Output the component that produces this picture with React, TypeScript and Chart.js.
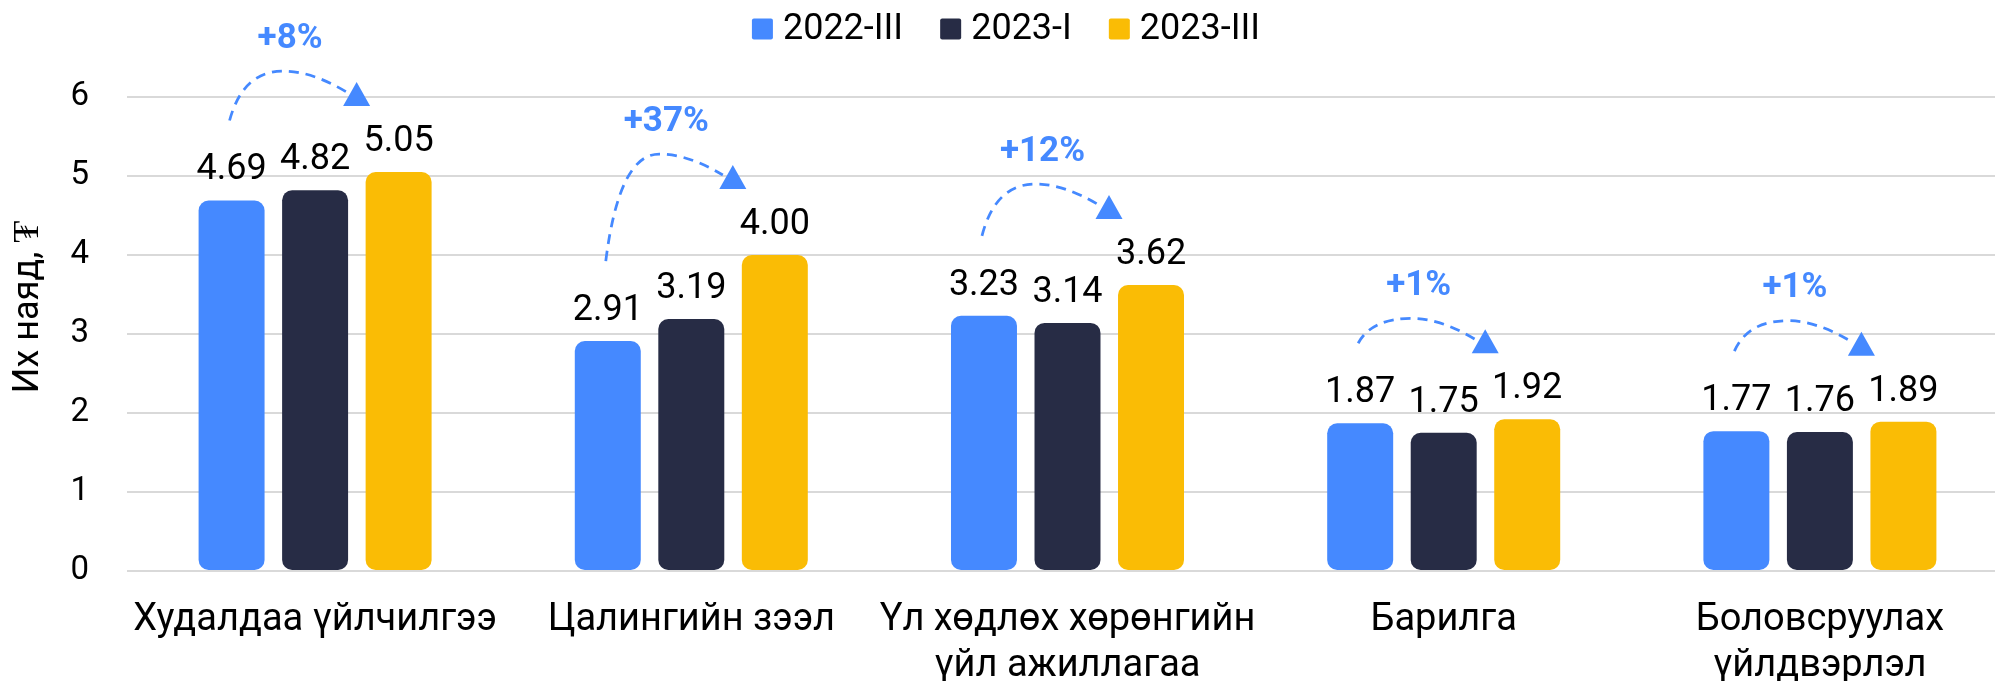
import React, { useEffect, useRef } from "react";
import { Chart, registerables } from "chart.js";

Chart.register(...registerables);

const categories: (string | string[])[] = [
  "Худалдаа үйлчилгээ",
  "Цалингийн зээл",
  ["Үл хөдлөх хөрөнгийн", "үйл ажиллагаа"],
  "Барилга",
  ["Боловсруулах", "үйлдвэрлэл"],
];
const seriesNames = ["2022-III", "2023-I", "2023-III"];
const values2022III = [4.69, 2.91, 3.23, 1.87, 1.77];
const values2023I = [4.82, 3.19, 3.14, 1.75, 1.76];
const values2023III = [5.05, 4.0, 3.62, 1.92, 1.89];
const growthLabels = ["+8%", "+37%", "+12%", "+1%", "+1%"];
const yMin = 0;
const yMax = 6;
const yStep = 1;
const yTitle = "Их наяд, ₮";

const BLUE = "#4589FF";
const NAVY = "#272C45";
const YELLOW = "#FABC05";
const SERIES_COLORS = [BLUE, NAVY, YELLOW];
const FONT = "Roboto";

function roundRect(ctx: CanvasRenderingContext2D, x: number, y: number, w: number, h: number, r: number) {
  ctx.beginPath();
  ctx.moveTo(x + r, y);
  ctx.lineTo(x + w - r, y);
  ctx.quadraticCurveTo(x + w, y, x + w, y + r);
  ctx.lineTo(x + w, y + h - r);
  ctx.quadraticCurveTo(x + w, y + h, x + w - r, y + h);
  ctx.lineTo(x + r, y + h);
  ctx.quadraticCurveTo(x, y + h, x, y + h - r);
  ctx.lineTo(x, y + r);
  ctx.quadraticCurveTo(x, y, x + r, y);
  ctx.closePath();
}

const overlayPlugin = {
  id: "overlay",
  afterDatasetsDraw(chart: any) {
    const ctx = chart.ctx as CanvasRenderingContext2D;
    const metas = [0, 1, 2].map((i) => chart.getDatasetMeta(i));
    ctx.save();
    // value labels
    ctx.font = `36px ${FONT}`;
    ctx.fillStyle = "#000";
    ctx.textAlign = "center";
    ctx.textBaseline = "alphabetic";
    metas.forEach((m: any, di: number) => {
      m.data.forEach((bar: any, i: number) => {
        const v = chart.data.datasets[di].data[i] as number;
        ctx.fillText(v.toFixed(2), bar.x, bar.y - 21);
      });
    });
    // growth arrows
    for (let i = 0; i < categories.length; i++) {
      const b = metas[0].data[i];
      const d = metas[1].data[i];
      const y = metas[2].data[i];
      const gx = d.x;
      const sx = b.x - 2;
      const sy = b.y - 80;
      const ex = y.x - 42;
      const ey = y.y - 78;
      const px = gx - 32;
      const py = Math.min(sy, ey - 12) - 11;
      const lx = ex - 10;
      const ly = ey - 2;
      ctx.strokeStyle = BLUE;
      ctx.lineWidth = 2.75;
      ctx.setLineDash([10, 7]);
      ctx.beginPath();
      ctx.moveTo(sx, sy);
      ctx.quadraticCurveTo(sx + (px - sx) * 0.25, py, px, py);
      ctx.quadraticCurveTo(px + (lx - px) * 0.45, py, lx, ly);
      ctx.stroke();
      ctx.setLineDash([]);
      ctx.fillStyle = BLUE;
      ctx.beginPath();
      ctx.moveTo(ex, ey - 12);
      ctx.lineTo(ex + 13.5, ey + 12);
      ctx.lineTo(ex - 13.5, ey + 12);
      ctx.closePath();
      ctx.fill();
      ctx.font = `bold 35px ${FONT}`;
      ctx.textBaseline = "middle";
      ctx.textAlign = "center";
      ctx.fillText(growthLabels[i], gx - 25, py - 32);
    }
    // y axis title
    const ca = chart.chartArea;
    ctx.save();
    ctx.translate(29, (ca.top + ca.bottom) / 2 - 27);
    ctx.rotate(-Math.PI / 2);
    ctx.font = `36px ${FONT}`;
    ctx.fillStyle = "#000";
    ctx.textAlign = "center";
    ctx.textBaseline = "middle";
    ctx.fillText(yTitle, 0, 0);
    ctx.restore();
    // legend
    ctx.font = `36px ${FONT}`;
    const box = 21;
    const gapText = 10;
    const gapItem = 37;
    const widths = seriesNames.map((n) => box + gapText + ctx.measureText(n).width);
    const total = widths.reduce((a, c) => a + c, 0) + gapItem * (seriesNames.length - 1);
    let x = chart.width / 2 - total / 2;
    const cy = 29;
    seriesNames.forEach((n, i) => {
      ctx.fillStyle = SERIES_COLORS[i];
      roundRect(ctx, x, cy - box / 2, box, box, 2);
      ctx.fill();
      ctx.fillStyle = "#000";
      ctx.textAlign = "left";
      ctx.textBaseline = "middle";
      ctx.fillText(n, x + box + gapText, cy + 1);
      x += widths[i] + gapItem;
    });
    ctx.restore();
  },
};

export default function App() {
  const ref = useRef<HTMLCanvasElement | null>(null);
  useEffect(() => {
    if (!ref.current) return;
    const chart = new Chart(ref.current, {
      type: "bar",
      data: {
        labels: categories,
        datasets: [
          { label: seriesNames[0], data: values2022III, backgroundColor: BLUE },
          { label: seriesNames[1], data: values2023I, backgroundColor: NAVY },
          { label: seriesNames[2], data: values2023III, backgroundColor: YELLOW },
        ].map((ds) => ({
          ...ds,
          borderRadius: 10,
          borderSkipped: false,
          categoryPercentage: 0.666,
          barPercentage: 0.79,
        })),
      },
      options: {
        animation: false,
        responsive: false,
        devicePixelRatio: 1,
        layout: { padding: { top: 97, right: 4, left: 0, bottom: 0 } },
        plugins: {
          legend: { display: false },
          tooltip: { enabled: false },
          title: { display: false },
        },
        scales: {
          x: {
            grid: { display: false, drawTicks: false },
            border: { display: false },
            ticks: {
              color: "#000",
              font: { family: FONT, size: 38, lineHeight: 1.2 },
              padding: 27,
              maxRotation: 0,
              autoSkip: false,
            },
            afterFit(scale: any) {
              scale.height = 110;
            },
          },
          y: {
            min: yMin,
            max: yMax,
            grid: { color: "#D9D9D9", lineWidth: 2, drawTicks: false },
            border: { display: false },
            ticks: {
              stepSize: yStep,
              color: "#000",
              font: { family: FONT, size: 33 },
              padding: 38,
            },
            afterFit(scale: any) {
              scale.width = 127;
            },
          },
        },
      },
      plugins: [overlayPlugin],
    } as any);
    return () => chart.destroy();
  }, []);
  return (
    <div style={{ position: "fixed", left: 0, top: 0, width: 1995, height: 681, overflow: "hidden", background: "#fff" }}>
      <canvas ref={ref} width={2012} height={681} style={{ width: 2012, height: 681, display: "block" }} />
    </div>
  );
}
